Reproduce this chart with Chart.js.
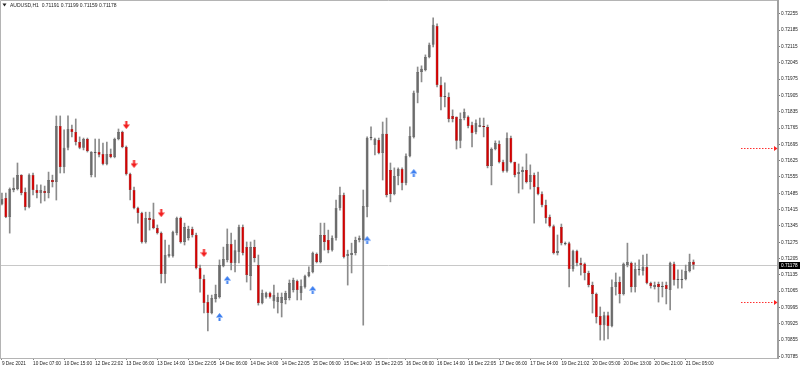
<!DOCTYPE html>
<html>
<head>
<meta charset="utf-8">
<title>AUDUSD,H1</title>
<script src="https://cdn.jsdelivr.net/npm/chart.js@4.4.1/dist/chart.umd.min.js"></script>
<style>
  html, body { margin: 0; padding: 0; background: #fff; }
  #wrap { width: 800px; height: 368px; }
</style>
</head>
<body>
<div id="wrap"><canvas id="chart" width="800" height="368"></canvas></div>
<script>
// AUDUSD H1 candles

const symbolTitle = 'AUDUSD,H1';

const opens = [
  0.71439, 0.71465, 0.71383, 0.71499, 0.71503, 0.71563, 0.71491, 0.71426, 0.71563, 0.71499,
  0.71486, 0.71495, 0.71486, 0.71542, 0.71533, 0.71774, 0.71598, 0.71680, 0.71761, 0.71748,
  0.71705, 0.71680, 0.71718, 0.71563, 0.71658, 0.71662, 0.71654, 0.71611, 0.71654, 0.71641,
  0.71718, 0.71748, 0.71684, 0.71568, 0.71499, 0.71422, 0.71400, 0.71276, 0.71379, 0.71374,
  0.71336, 0.71314, 0.71139, 0.71216, 0.71216, 0.71314, 0.71379, 0.71276, 0.71293, 0.71332,
  0.71306, 0.71164, 0.71117, 0.71018, 0.70971, 0.71031, 0.71040, 0.71173, 0.71199, 0.71267,
  0.71186, 0.71233, 0.71340, 0.71254, 0.71130, 0.71254, 0.71177, 0.71014, 0.71040, 0.71057,
  0.71022, 0.71018, 0.71014, 0.71027, 0.71035, 0.71070, 0.71108, 0.71057, 0.71083, 0.71130,
  0.71147, 0.71224, 0.71190, 0.71306, 0.71284, 0.71241, 0.71293, 0.71422, 0.71478, 0.71216,
  0.71220, 0.71229, 0.71284, 0.71284, 0.71426, 0.71722, 0.71692, 0.71714, 0.71658, 0.71740,
  0.71585, 0.71482, 0.71559, 0.71589, 0.71529, 0.71645, 0.71727, 0.71916, 0.72006, 0.72014,
  0.72070, 0.72122, 0.72203, 0.71950, 0.71898, 0.71898, 0.71817, 0.71813, 0.71710, 0.71808,
  0.71813, 0.71778, 0.71748, 0.71770, 0.71774, 0.71770, 0.71602, 0.71675, 0.71697, 0.71619,
  0.71581, 0.71722, 0.71619, 0.71568, 0.71576, 0.71585, 0.71533, 0.71563, 0.71512, 0.71482,
  0.71435, 0.71383, 0.71344, 0.71229, 0.71340, 0.71267, 0.71271, 0.71160, 0.71237, 0.71186,
  0.71182, 0.71143, 0.71091, 0.71053, 0.70958, 0.70919, 0.70962, 0.70915, 0.71083, 0.71104,
  0.71053, 0.71177, 0.71186, 0.71083, 0.71156, 0.71151, 0.71169, 0.71100, 0.71083, 0.71096,
  0.71083, 0.71091, 0.71070, 0.71182, 0.71113, 0.71113, 0.71117, 0.71151, 0.71191
];
const highs = [
  0.71486, 0.71486, 0.71508, 0.71551, 0.71615, 0.71565, 0.71508, 0.71568, 0.71572, 0.71521,
  0.71521, 0.71516, 0.71576, 0.71563, 0.71817, 0.71817, 0.71757, 0.71817, 0.71778, 0.71804,
  0.71727, 0.71722, 0.71722, 0.71664, 0.71718, 0.71718, 0.71701, 0.71705, 0.71675, 0.71722,
  0.71761, 0.71752, 0.71688, 0.71572, 0.71512, 0.71426, 0.71404, 0.71404, 0.71404, 0.71443,
  0.71349, 0.71319, 0.71284, 0.71263, 0.71323, 0.71383, 0.71383, 0.71357, 0.71344, 0.71340,
  0.71314, 0.71177, 0.71134, 0.71048, 0.71048, 0.71091, 0.71199, 0.71254, 0.71332, 0.71314,
  0.71284, 0.71349, 0.71349, 0.71276, 0.71276, 0.71284, 0.71220, 0.71070, 0.71061, 0.71061,
  0.71091, 0.71057, 0.71057, 0.71065, 0.71113, 0.71121, 0.71113, 0.71113, 0.71134, 0.71169,
  0.71233, 0.71229, 0.71357, 0.71357, 0.71327, 0.71302, 0.71456, 0.71512, 0.71486, 0.71241,
  0.71271, 0.71297, 0.71302, 0.71499, 0.71727, 0.71770, 0.71722, 0.71722, 0.71791, 0.71808,
  0.71615, 0.71594, 0.71594, 0.71594, 0.71654, 0.71770, 0.71924, 0.72027, 0.72032, 0.72079,
  0.72130, 0.72238, 0.72212, 0.71984, 0.71959, 0.71916, 0.71843, 0.71813, 0.71830, 0.71847,
  0.71817, 0.71791, 0.71800, 0.71808, 0.71808, 0.71778, 0.71680, 0.71710, 0.71710, 0.71628,
  0.71744, 0.71731, 0.71619, 0.71611, 0.71598, 0.71654, 0.71607, 0.71572, 0.71576, 0.71491,
  0.71456, 0.71392, 0.71349, 0.71306, 0.71353, 0.71276, 0.71276, 0.71241, 0.71241, 0.71207,
  0.71186, 0.71151, 0.71104, 0.71057, 0.70997, 0.70975, 0.70975, 0.71113, 0.71143, 0.71126,
  0.71186, 0.71271, 0.71190, 0.71186, 0.71199, 0.71220, 0.71224, 0.71104, 0.71104, 0.71104,
  0.71104, 0.71104, 0.71190, 0.71190, 0.71156, 0.71156, 0.71177, 0.71224, 0.71199
];
const lows = [
  0.71435, 0.71380, 0.71314, 0.71491, 0.71499, 0.71478, 0.71413, 0.71422, 0.71478, 0.71465,
  0.71443, 0.71452, 0.71465, 0.71512, 0.71456, 0.71572, 0.71572, 0.71671, 0.71727, 0.71692,
  0.71676, 0.71671, 0.71662, 0.71555, 0.71555, 0.71641, 0.71607, 0.71607, 0.71637, 0.71637,
  0.71714, 0.71680, 0.71563, 0.71456, 0.71418, 0.71357, 0.71271, 0.71271, 0.71327, 0.71332,
  0.71310, 0.71100, 0.71100, 0.71211, 0.71211, 0.71306, 0.71271, 0.71263, 0.71284, 0.71297,
  0.71160, 0.71061, 0.70971, 0.70894, 0.70967, 0.71018, 0.71035, 0.71169, 0.71190, 0.71156,
  0.71147, 0.71186, 0.71220, 0.71104, 0.71070, 0.71190, 0.71005, 0.71010, 0.71035, 0.71035,
  0.70992, 0.70971, 0.70954, 0.71010, 0.71027, 0.71061, 0.71027, 0.71027, 0.71078, 0.71126,
  0.71143, 0.71186, 0.71186, 0.71241, 0.71229, 0.71237, 0.71284, 0.71413, 0.71207, 0.71091,
  0.71143, 0.71220, 0.71276, 0.70919, 0.71383, 0.71714, 0.71650, 0.71654, 0.71542, 0.71469,
  0.71448, 0.71478, 0.71521, 0.71499, 0.71521, 0.71641, 0.71722, 0.71873, 0.71963, 0.72010,
  0.72066, 0.72113, 0.71941, 0.71843, 0.71856, 0.71791, 0.71791, 0.71675, 0.71680, 0.71800,
  0.71765, 0.71684, 0.71740, 0.71770, 0.71727, 0.71594, 0.71521, 0.71671, 0.71615, 0.71576,
  0.71576, 0.71615, 0.71555, 0.71486, 0.71503, 0.71529, 0.71503, 0.71357, 0.71478, 0.71426,
  0.71357, 0.71340, 0.71224, 0.71220, 0.71263, 0.71263, 0.71083, 0.71151, 0.71173, 0.71134,
  0.71113, 0.71083, 0.70971, 0.70928, 0.70855, 0.70855, 0.70860, 0.70911, 0.71048, 0.71014,
  0.71048, 0.71169, 0.71061, 0.71061, 0.71134, 0.71134, 0.71096, 0.71078, 0.71074, 0.71018,
  0.71040, 0.71010, 0.70984, 0.71091, 0.71078, 0.71078, 0.71113, 0.71147, 0.71159
];
const closes = [
  0.71460, 0.71383, 0.71503, 0.71508, 0.71563, 0.71486, 0.71426, 0.71563, 0.71499, 0.71486,
  0.71499, 0.71486, 0.71542, 0.71533, 0.71774, 0.71598, 0.71680, 0.71761, 0.71748, 0.71705,
  0.71680, 0.71718, 0.71667, 0.71662, 0.71662, 0.71650, 0.71611, 0.71654, 0.71641, 0.71718,
  0.71748, 0.71684, 0.71568, 0.71499, 0.71422, 0.71400, 0.71276, 0.71379, 0.71370, 0.71336,
  0.71314, 0.71139, 0.71220, 0.71224, 0.71319, 0.71379, 0.71276, 0.71340, 0.71332, 0.71306,
  0.71164, 0.71117, 0.71014, 0.70971, 0.71035, 0.71053, 0.71177, 0.71203, 0.71267, 0.71186,
  0.71241, 0.71340, 0.71229, 0.71134, 0.71254, 0.71207, 0.71014, 0.71057, 0.71057, 0.71040,
  0.71048, 0.71040, 0.71040, 0.71057, 0.71100, 0.71113, 0.71070, 0.71087, 0.71130, 0.71147,
  0.71229, 0.71190, 0.71306, 0.71276, 0.71241, 0.71293, 0.71422, 0.71478, 0.71211, 0.71224,
  0.71229, 0.71284, 0.71293, 0.71430, 0.71722, 0.71727, 0.71718, 0.71658, 0.71740, 0.71478,
  0.71482, 0.71559, 0.71589, 0.71529, 0.71645, 0.71731, 0.71916, 0.72006, 0.72019, 0.72070,
  0.72122, 0.72208, 0.71950, 0.71898, 0.71903, 0.71804, 0.71804, 0.71710, 0.71804, 0.71834,
  0.71774, 0.71744, 0.71787, 0.71778, 0.71770, 0.71602, 0.71675, 0.71701, 0.71619, 0.71581,
  0.71722, 0.71619, 0.71563, 0.71576, 0.71585, 0.71533, 0.71563, 0.71512, 0.71482, 0.71435,
  0.71379, 0.71344, 0.71229, 0.71237, 0.71271, 0.71271, 0.71160, 0.71237, 0.71186, 0.71177,
  0.71143, 0.71091, 0.71053, 0.70954, 0.70919, 0.70962, 0.70915, 0.71083, 0.71104, 0.71053,
  0.71182, 0.71190, 0.71083, 0.71160, 0.71160, 0.71169, 0.71100, 0.71087, 0.71091, 0.71083,
  0.71087, 0.71074, 0.71186, 0.71113, 0.71117, 0.71117, 0.71151, 0.71190, 0.71178
];

// time axis labels, one every 8 bars
const axisTimes = [
  '9 Dec 2021', '10 Dec 07:00', '10 Dec 15:00', '12 Dec 22:02', '13 Dec 06:00', '13 Dec 14:00',
  '13 Dec 22:05', '14 Dec 06:00', '14 Dec 14:00', '14 Dec 22:05', '15 Dec 06:00', '15 Dec 14:00',
  '15 Dec 22:05', '16 Dec 06:00', '16 Dec 14:00', '16 Dec 22:05', '17 Dec 06:00', '17 Dec 14:00',
  '19 Dec 21:02', '20 Dec 05:00', '20 Dec 13:00', '20 Dec 21:00', '21 Dec 05:00'
];
const axisStep = 8;
const slotCount = 200; // bar slots incl. the empty shift area on the right

const priceTicks = [
  0.70785, 0.70855, 0.70925, 0.70995, 0.71065, 0.71135, 0.71205, 0.71275, 0.71345, 0.71415, 0.71485,
  0.71555, 0.71625, 0.71695, 0.71765, 0.71835, 0.71905, 0.71975, 0.72045, 0.72115, 0.72185, 0.72255
];

// signal arrows (bar index + price)
const sellIdx = [32, 34, 41, 52];
const sellPrice = [0.71778, 0.71611, 0.71400, 0.71229];
const buyIdx = [56, 58, 80, 94, 106];
const buyPrice = [0.70954, 0.71113, 0.71070, 0.71284, 0.71572];

// dotted alert levels on the right edge
const alertLevels = [0.71680, 0.71018];

const bull = '#6b6b6b';
const bear = '#d40000';

function makeArrow(color, down) {
  const c = document.createElement('canvas');
  c.width = 7;
  c.height = 8;
  const g = c.getContext('2d');
  g.fillStyle = color;
  g.beginPath();
  if (down) {
    g.rect(2.5, 0, 2, 4);
    g.moveTo(0, 3.5); g.lineTo(7, 3.5); g.lineTo(3.5, 8);
  } else {
    g.rect(2.5, 4, 2, 4);
    g.moveTo(0, 4.5); g.lineTo(7, 4.5); g.lineTo(3.5, 0);
  }
  g.closePath();
  g.fill();
  return c;
}

function sparse(idx, vals) {
  const out = opens.map(() => null);
  idx.forEach((k, j) => { out[k] = vals[j]; });
  return out;
}

const labels = Array.from({ length: slotCount }, (_, i) => i);
const bodies = opens.map((o, i) => [o, closes[i]]);
const wicks = lows.map((l, i) => [l, highs[i]]);
const bodyColors = opens.map((o, i) => closes[i] >= o ? bull : bear);
const bodyBorders = opens.map((o, i) => closes[i] >= o ? '#555555' : '#8a1010');

const mtPlugin = {
  id: 'mt',
  beforeDatasetsDraw(chart) {
    const { ctx, chartArea: a, scales: { y } } = chart;
    const yb = Math.round(y.getPixelForValue(closes[closes.length - 1])) + 0.5;
    ctx.save();
    ctx.strokeStyle = '#c8c8c8';
    ctx.lineWidth = 1;
    ctx.beginPath();
    ctx.moveTo(a.left, yb);
    ctx.lineTo(a.right, yb);
    ctx.stroke();
    ctx.restore();
  },
  afterDraw(chart) {
    const { ctx, chartArea: a, scales: { y } } = chart;
    ctx.save();

    // frame
    ctx.strokeStyle = '#b4b4b4';
    ctx.lineWidth = 1;
    ctx.beginPath();
    ctx.moveTo(a.left + 0.5, a.bottom + 0.5);
    ctx.lineTo(a.left + 0.5, 0.5);
    ctx.lineTo(a.right, 0.5);
    ctx.moveTo(a.left, a.bottom + 0.5);
    ctx.lineTo(a.right, a.bottom + 0.5);
    ctx.stroke();
    ctx.strokeStyle = '#a0a0a0';
    ctx.lineWidth = 2;
    ctx.beginPath();
    ctx.moveTo(a.right + 1, 0);
    ctx.lineTo(a.right + 1, a.bottom + 1);
    ctx.stroke();

    // dotted alert arrows
    ctx.strokeStyle = '#ff3030';
    ctx.fillStyle = '#ff2020';
    ctx.lineWidth = 1;
    ctx.setLineDash([1.5, 1.5]);
    alertLevels.forEach(p => {
      const yy = Math.round(y.getPixelForValue(p)) + 0.5;
      ctx.beginPath();
      ctx.moveTo(a.right - 36, yy);
      ctx.lineTo(a.right - 2, yy);
      ctx.stroke();
      ctx.beginPath();
      ctx.moveTo(a.right - 3, yy - 2.5);
      ctx.lineTo(a.right + 0.5, yy);
      ctx.lineTo(a.right - 3, yy + 2.5);
      ctx.fill();
    });
    ctx.setLineDash([]);

    // bid price label
    const last = closes[closes.length - 1];
    const yb = y.getPixelForValue(last);
    ctx.fillStyle = '#000';
    ctx.fillRect(a.right + 2, Math.round(yb) - 3, 21, 7);
    ctx.fillStyle = '#fff';
    ctx.font = '4.7px "Liberation Sans"';
    ctx.textBaseline = 'middle';
    ctx.textAlign = 'left';
    ctx.fillText(last.toFixed(5), a.right + 4, Math.round(yb) + 0.5);

    // header
    ctx.fillStyle = '#222';
    ctx.beginPath();
    ctx.moveTo(2.5, 3.5);
    ctx.lineTo(6.5, 3.5);
    ctx.lineTo(4.5, 6.5);
    ctx.fill();
    ctx.font = '5px "Liberation Sans"';
    ctx.fillText(symbolTitle + '  ' + [opens, highs, lows, closes].map(s => s[s.length - 1].toFixed(5)).join(' '), 10, 5.5);
    ctx.restore();
  }
};

Chart.defaults.font.family = '"Liberation Sans", Arial, sans-serif';
Chart.defaults.font.size = 4.7;
Chart.defaults.color = '#222';

new Chart(document.getElementById('chart'), {
  type: 'bar',
  data: {
    labels: labels,
    datasets: [
      {
        type: 'line',
        data: sparse(sellIdx, sellPrice),
        showLine: false,
        pointStyle: makeArrow('#f21d1d', true),
        pointRadius: 4,
        order: 0
      },
      {
        type: 'line',
        data: sparse(buyIdx, buyPrice),
        showLine: false,
        pointStyle: makeArrow('#3d7ff0', false),
        pointRadius: 4,
        order: 0
      },
      {
        data: bodies,
        backgroundColor: bodyColors,
        borderColor: bodyBorders,
        borderWidth: 0.5,
        borderSkipped: false,
        grouped: false,
        categoryPercentage: 1,
        barPercentage: 0.74,
        minBarLength: 1,
        order: 1
      },
      {
        data: wicks,
        backgroundColor: '#8c8c8c',
        grouped: false,
        barThickness: 1,
        order: 2
      }
    ]
  },
  options: {
    responsive: false,
    animation: false,
    devicePixelRatio: 1,
    layout: { autoPadding: false, padding: { left: 0, top: 2, right: 0, bottom: 0 } },
    plugins: {
      legend: { display: false },
      tooltip: { enabled: false }
    },
    scales: {
      x: {
        offset: true,
        afterFit: s => { s.height = 10; s.paddingLeft = 0; s.paddingRight = 0; },
        grid: {
          drawOnChartArea: false,
          tickLength: 2,
          color: '#888',
          offset: false
        },
        border: { display: false },
        ticks: {
          autoSkip: false,
          maxRotation: 0,
          minRotation: 0,
          align: 'start',
          padding: 1,
          callback: (v, i) => (i % axisStep === 0 && axisTimes[i / axisStep]) ? axisTimes[i / axisStep] : null
        }
      },
      y: {
        position: 'right',
        min: 0.70778,
        max: 0.72306,
        afterFit: s => { s.width = 23; s.paddingTop = 0; s.paddingBottom = 0; },
        afterBuildTicks: s => { s.ticks = priceTicks.map(v => ({ value: v })); },
        grid: {
          drawOnChartArea: false,
          tickLength: 3,
          color: '#777'
        },
        border: { display: false },
        ticks: {
          padding: 1,
          callback: v => v.toFixed(5)
        }
      }
    }
  },
  plugins: [mtPlugin]
});
</script>
</body>
</html>
